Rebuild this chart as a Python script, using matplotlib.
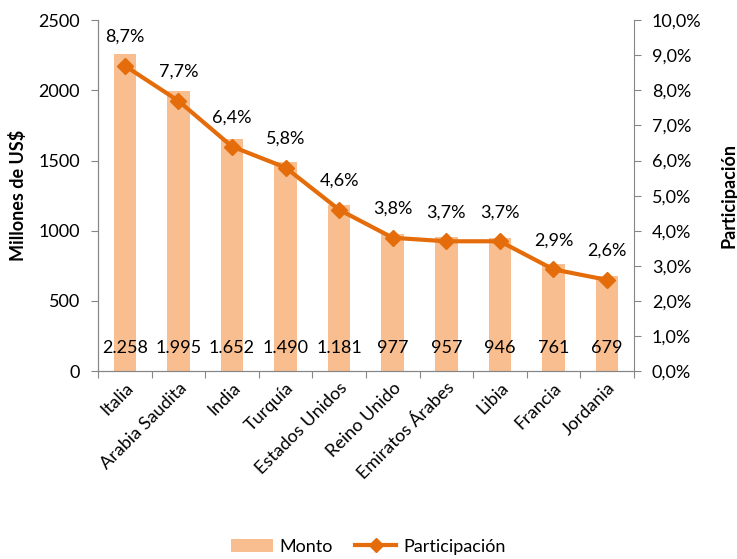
import matplotlib
matplotlib.use("Agg")
import matplotlib.pyplot as plt
from matplotlib.ticker import FuncFormatter, FixedLocator
from matplotlib.patches import Patch
from matplotlib.lines import Line2D
import numpy as np

paises = ["Italia", "Arabia Saudita", "India", "Turquía", "Estados Unidos",
          "Reino Unido", "Emiratos Árabes", "Libia", "Francia", "Jordania"]
monto = [2258, 1995, 1652, 1490, 1181, 977, 957, 946, 761, 679]
monto_txt = ["2.258", "1.995", "1.652", "1.490", "1.181", "977", "957", "946", "761", "679"]
participacion = [8.7, 7.7, 6.4, 5.8, 4.6, 3.8, 3.7, 3.7, 2.9, 2.6]

BAR_C = "#F9BE8F"
LINE_C = "#E46C0A"
AXIS_C = "#868686"

plt.rcParams["font.family"] = ["Lato", "DejaVu Sans"]
FS = 13

fig = plt.figure(figsize=(7.37, 5.59), dpi=100)
ax1 = fig.add_axes([0.133, 0.336, 0.727, 0.628])
ax2 = ax1.twinx()

x = np.arange(len(paises))
ax1.bar(x, monto, width=0.42, color=BAR_C, zorder=1)
ax1.set_xlim(-0.5, len(paises) - 0.5)
ax1.set_ylim(0, 2500)
ax1.set_yticks(np.arange(0, 2501, 500))
for xi, t in zip(x, monto_txt):
    ax1.text(xi, 165, t, ha="center", va="center", fontsize=FS, color="black", zorder=3)

ax2.plot(x, participacion, color=LINE_C, lw=3, marker="D", ms=8,
         markerfacecolor=LINE_C, markeredgecolor=LINE_C, zorder=4)
ax2.set_ylim(0, 10)
ax2.set_yticks(np.arange(0, 10.01, 1))
ax2.yaxis.set_major_formatter(FuncFormatter(lambda v, p: f"{v:.1f}%".replace(".", ",")))
for xi, v in zip(x, participacion):
    ax2.text(xi, v + 0.6, f"{v:.1f}%".replace(".", ","), ha="center", va="bottom",
             fontsize=FS, color="black")

# ticks between categories
ax1.xaxis.set_major_locator(FixedLocator(np.arange(-0.5, len(paises), 1)))
ax1.xaxis.set_major_formatter(FuncFormatter(lambda v, p: ""))
ax1.set_xticks(x, minor=True)
ax1.set_xticklabels(paises, minor=True, rotation=45, ha="right", rotation_mode="anchor",
                    fontsize=FS)
ax1.tick_params(axis="x", which="minor", length=0, pad=6)
ax1.tick_params(axis="x", which="major", length=5, color=AXIS_C)
ax1.tick_params(axis="y", length=5, color=AXIS_C, labelsize=FS, pad=8)
ax2.tick_params(axis="y", length=5, color=AXIS_C, labelsize=FS, pad=8)

for ax in (ax1, ax2):
    ax.spines["top"].set_visible(False)
    for s in ("left", "right", "bottom"):
        ax.spines[s].set_color(AXIS_C)
ax1.spines["right"].set_visible(False)

ax1.set_ylabel("Millones de US$", fontsize=FS, fontweight="bold", labelpad=8)
ax2.set_ylabel("Participación", fontsize=FS, fontweight="bold", rotation=90, labelpad=14)

handles = [Patch(facecolor=BAR_C, edgecolor="none", label="Monto"),
           Line2D([0], [0], color=LINE_C, lw=3, marker="D", ms=7, label="Participación")]
fig.legend(handles=handles, loc="center", bbox_to_anchor=(0.5, 0.022), ncol=2,
           frameon=False, fontsize=FS, handlelength=2.3, handletextpad=0.4,
           columnspacing=1.2)

fig.savefig("out.png", dpi=100)
